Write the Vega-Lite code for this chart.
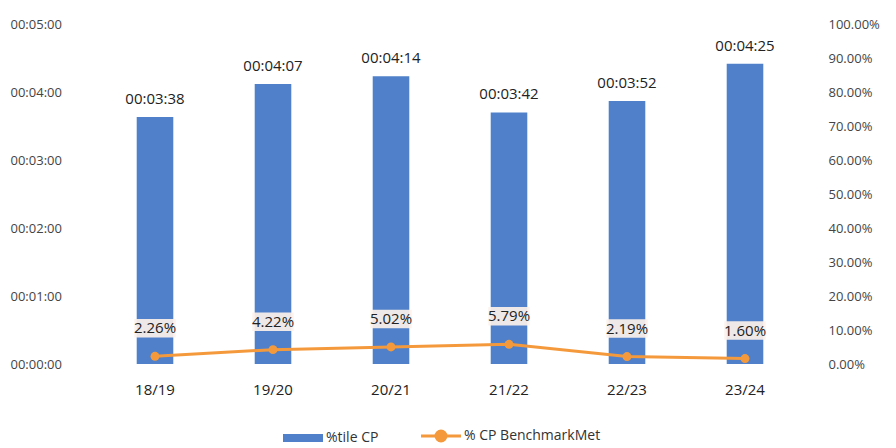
{
  "$schema": "https://vega.github.io/schema/vega-lite/v6.json",
  "width": 708,
  "height": 340,
  "padding": {"left": 10, "top": 18, "right": 10, "bottom": 0},
  "autosize": {"type": "pad"},
  "background": "white",
  "config": {
    "view": {"stroke": null},
    "font": "Open Sans",
    "axis": {"grid": false, "domain": false, "ticks": false, "tickSize": 0, "labelColor": "#333333", "labelFontSize": 13, "title": null}
  },
  "data": {
    "values": [
      {"year": "18/19", "cp": 218, "met": 0.0226},
      {"year": "19/20", "cp": 247, "met": 0.0422},
      {"year": "20/21", "cp": 254, "met": 0.0502},
      {"year": "21/22", "cp": 222, "met": 0.0579},
      {"year": "22/23", "cp": 232, "met": 0.0219},
      {"year": "23/24", "cp": 265, "met": 0.016}
    ]
  },
  "transform": [
    {"calculate": "utcFormat(datum.cp * 1000, '%H:%M:%S')", "as": "cp_label"}
  ],
  "encoding": {
    "x": {
      "field": "year", "type": "ordinal", "sort": null,
      "scale": {"paddingInner": 0.69, "paddingOuter": 0.345},
      "axis": {"labelAngle": 0, "labelPadding": 18, "labelFontSize": 15, "labelColor": "#222222"}
    }
  },
  "layer": [
    {
      "mark": {"type": "bar", "color": "#4f80c9"},
      "encoding": {
        "y": {
          "field": "cp", "type": "quantitative",
          "scale": {"domain": [0, 300]},
          "axis": {"orient": "left", "values": [0, 60, 120, 180, 240, 300], "labelExpr": "utcFormat(datum.value * 1000, '%H:%M:%S')", "labelAlign": "left", "labelPadding": 86, "labelFontSize": 13, "labelColor": "#444444"}
        },
        "color": {
          "datum": "%tile CP", "type": "nominal",
          "scale": {"domain": ["%tile CP", "% CP BenchmarkMet"], "range": ["#4f80c9", "#f59a3c"]},
          "legend": {
            "orient": "none", "legendX": 200, "legendY": 405, "title": null, "direction": "horizontal",
            "labelFontSize": 14, "labelColor": "#333333", "columnPadding": 36, "labelOffset": 16,
            "symbolSize": 1600, "symbolStrokeWidth": 3,
            "encode": {
              "symbols": {
                "update": {
                  "shape": {"signal": "datum.value === '%tile CP' ? 'M-1,-0.2H1V0.2H-1Z' : 'M-1,0H1M-0.25,0A0.25,0.25 0 1,0 0.25,0A0.25,0.25 0 1,0 -0.25,0Z'"},
                  "fill": {"signal": "datum.value === '%tile CP' ? '#4f80c9' : '#f59a3c'"},
                  "stroke": {"signal": "datum.value === '%tile CP' ? '#4f80c9' : '#f59a3c'"},
                  "strokeWidth": {"signal": "datum.value === '%tile CP' ? 0 : 3"},
                  "opacity": {"value": 1}
                }
              }
            }
          }
        }
      }
    },
    {
      "mark": {"type": "text", "baseline": "bottom", "dy": -10, "fontSize": 15, "color": "#222222"},
      "encoding": {
        "y": {"field": "cp", "type": "quantitative", "scale": {"domain": [0, 300]}, "axis": null},
        "text": {"field": "cp_label", "type": "nominal"}
      }
    },
    {
      "encoding": {
        "y": {
          "field": "met", "type": "quantitative",
          "scale": {"domain": [0, 1]},
          "axis": {"orient": "right", "values": [0, 0.1, 0.2, 0.3, 0.4, 0.5, 0.6, 0.7, 0.8, 0.9, 1], "format": ".2%", "labelPadding": 24, "labelFontSize": 13, "labelColor": "#444444"}
        }
      },
      "layer": [
        {
          "mark": {"type": "line", "color": "#f59a3c", "strokeWidth": 3},
          "encoding": {
            "color": {"datum": "% CP BenchmarkMet", "type": "nominal"}
          }
        },
        {
          "mark": {"type": "point", "filled": true, "size": 80, "color": "#f59a3c", "opacity": 1}
        },
        {
          "mark": {"type": "point", "shape": "M-1,-0.45H1V0.45H-1Z", "size": 1700, "filled": true, "color": "#fdf1ea", "opacity": 0.92, "yOffset": -28}
        },
        {
          "mark": {"type": "text", "baseline": "middle", "dy": -28, "fontSize": 15, "color": "#222222"},
          "encoding": {
            "text": {"field": "met", "type": "quantitative", "format": ".2%"}
          }
        }
      ]
    }
  ],
  "resolve": {"scale": {"y": "independent"}}
}
